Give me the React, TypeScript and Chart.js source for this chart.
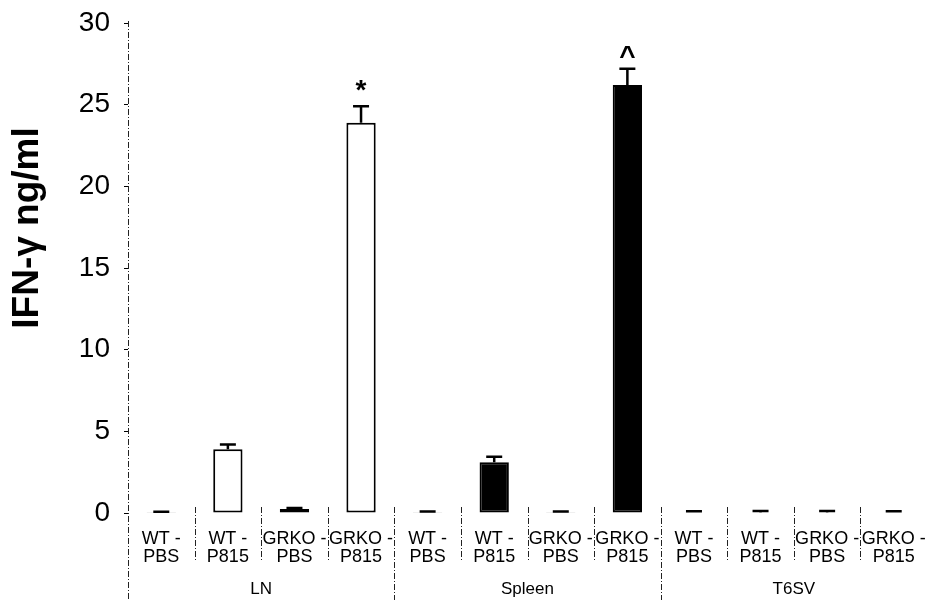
import React, { useEffect, useRef } from "react";
import { Chart, registerables } from "chart.js";

Chart.register(...registerables);

const categories: string[][] = [
  ["WT -", "PBS"], ["WT -", "P815"], ["GRKO -", "PBS"], ["GRKO -", "P815"],
  ["WT -", "PBS"], ["WT -", "P815"], ["GRKO -", "PBS"], ["GRKO -", "P815"],
  ["WT -", "PBS"], ["WT -", "P815"], ["GRKO -", "PBS"], ["GRKO -", "P815"],
];
const groups = ["LN", "Spleen", "T6SV"];
const values = [0.05, 3.9, 0.25, 23.9, 0.02, 3.1, 0.02, 26.2, 0.03, 0.03, 0.03, 0.03];
const errors = [0.03, 0.3, 0.05, 1.0, 0.07, 0.35, 0.07, 1.0, 0.08, 0.1, 0.1, 0.08];
const marks = ["", "", "", "*", "", "", "", "^", "", "", "", ""];
const groupFills = ["#ffffff", "#000000", "#000000"];
const yTicks = [0, 5, 10, 15, 20, 25, 30];
const yTitle = "IFN-\u03b3 ng/ml";

const FONT = "'Liberation Sans', Arial, Helvetica, sans-serif";

const errorPlugin = {
  id: "errorBars",
  afterDatasetsDraw(chart: any) {
    const { ctx } = chart;
    const meta = chart.getDatasetMeta(0);
    const y = chart.scales.y;
    ctx.save();
    ctx.strokeStyle = "#000";
    ctx.lineWidth = 2.5;
    ctx.setLineDash([]);
    meta.data.forEach((bar: any, i: number) => {
      const xc = bar.x;
      const yTop = y.getPixelForValue(values[i]);
      const yErr = y.getPixelForValue(values[i] + errors[i]);
      ctx.beginPath();
      ctx.moveTo(xc, yTop);
      ctx.lineTo(xc, yErr);
      ctx.moveTo(xc - 8, yErr);
      ctx.lineTo(xc + 8, yErr);
      ctx.stroke();
      if (marks[i]) {
        ctx.fillStyle = "#000";
        ctx.font = `bold 28px ${FONT}`;
        ctx.textAlign = "center";
        ctx.textBaseline = marks[i] === "*" ? "middle" : "top";
        if (marks[i] === "*") ctx.fillText(marks[i], xc, yErr - 15);
        else ctx.fillText(marks[i], xc, yErr - 25);
      }
    });
    ctx.restore();
  },
};

const framePlugin = {
  id: "frame",
  afterDraw(chart: any) {
    const { ctx, chartArea } = chart;
    const x = chart.scales.x;
    const y = chart.scales.y;
    const H = chart.height;
    ctx.save();
    ctx.strokeStyle = "#222";
    ctx.lineWidth = 1;
    ctx.setLineDash([6, 2, 1, 2]);
    // y axis line
    ctx.beginPath();
    ctx.moveTo(chartArea.left + 0.5, y.getPixelForValue(30) - 2);
    ctx.lineTo(chartArea.left + 0.5, H);
    ctx.stroke();
    // category separators
    const n = categories.length;
    for (let i = 1; i < n; i++) {
      const bx = Math.round((x.getPixelForValue(i - 1) + x.getPixelForValue(i)) / 2) + 0.5;
      const isGroup = i % 4 === 0;
      ctx.beginPath();
      ctx.moveTo(bx, chartArea.bottom - 6);
      ctx.lineTo(bx, isGroup ? H : chartArea.bottom + 48);
      ctx.stroke();
    }
    ctx.setLineDash([]);
    // group labels
    ctx.fillStyle = "#000";
    ctx.font = `17px ${FONT}`;
    ctx.textAlign = "center";
    ctx.textBaseline = "middle";
    groups.forEach((g, gi) => {
      const cx = (x.getPixelForValue(gi * 4) + x.getPixelForValue(gi * 4 + 3)) / 2;
      ctx.fillText(g, cx, chartArea.bottom + 76);
    });
    // y title
    ctx.save();
    ctx.translate(28, (y.getPixelForValue(30) + y.getPixelForValue(0)) / 2 - 40);
    ctx.rotate(-Math.PI / 2);
    ctx.font = `bold 37px ${FONT}`;
    ctx.textAlign = "center";
    ctx.textBaseline = "middle";
    ctx.fillText(yTitle, 0, 0);
    ctx.restore();
    ctx.restore();
  },
};

export default function App() {
  const ref = useRef<HTMLCanvasElement | null>(null);
  useEffect(() => {
    if (!ref.current) return;
    const bg = values.map((_, i) => groupFills[Math.floor(i / 4)]);
    const chart = new Chart(ref.current, {
      type: "bar",
      data: {
        labels: categories,
        datasets: [
          {
            data: values,
            backgroundColor: bg,
            borderColor: "#000",
            borderWidth: 2,
            borderSkipped: false,
            barPercentage: 0.44,
            categoryPercentage: 1,
          },
        ],
      },
      options: {
        animation: false,
        responsive: true,
        maintainAspectRatio: false,
        layout: { padding: { top: 23, right: 2, left: 0, bottom: 0 } },
        plugins: { legend: { display: false }, tooltip: { enabled: false } },
        scales: {
          x: {
            grid: { display: false },
            border: { display: false },
            ticks: {
              color: "#000",
              font: { family: FONT, size: 18, lineHeight: 1.0 },
              padding: 9,
              maxRotation: 0,
              autoSkip: false,
            },
            afterFit: (s: any) => {
              s.height = 87;
              s.paddingLeft = 0;
              s.paddingRight = 0;
            },
          },
          y: {
            min: 0,
            max: 30,
            afterBuildTicks: (s: any) => {
              s.ticks = yTicks.map((v) => ({ value: v }));
            },
            grid: {
              display: true,
              drawOnChartArea: false,
              tickLength: 4,
              color: "#000",
            },
            border: { display: false },
            ticks: {
              color: "#000",
              font: { family: FONT, size: 28 },
              padding: 14,
            },
            afterFit: (s: any) => {
              s.width = 128;
              s.paddingTop = 0;
              s.paddingBottom = 0;
            },
          },
        },
      },
      plugins: [errorPlugin, framePlugin],
    });
    return () => chart.destroy();
  }, []);
  return (
    <div style={{ position: "absolute", left: 0, top: 0, width: 929, height: 600, background: "#fff" }}>
      <canvas ref={ref} />
    </div>
  );
}
